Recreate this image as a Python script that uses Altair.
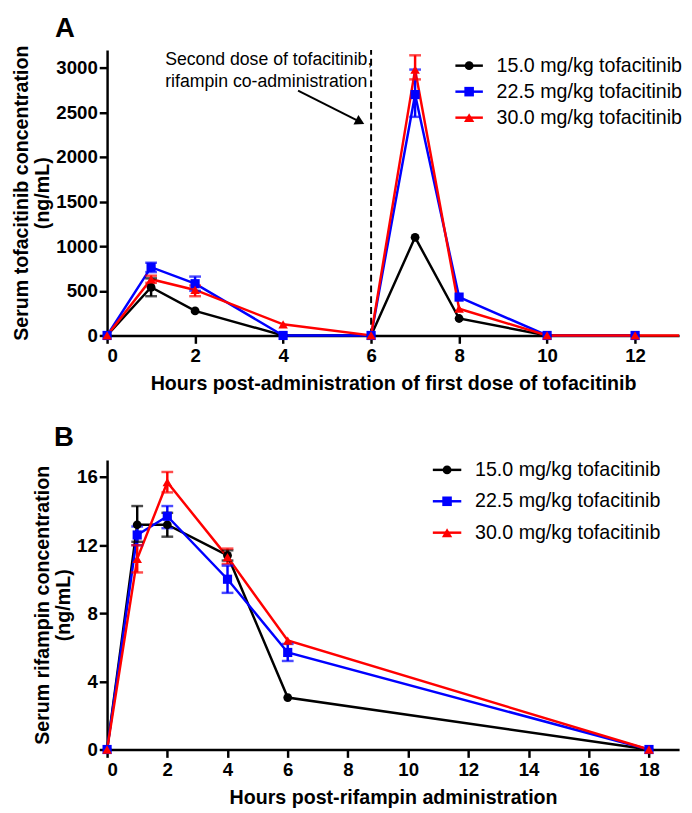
import altair as alt
import pandas as pd

# ---------------- data ----------------
series = ["15.0 mg/kg tofacitinib", "22.5 mg/kg tofacitinib", "30.0 mg/kg tofacitinib"]
colors = ["#000000", "#0000FF", "#FF0000"]
shapes = ["circle", "square", "triangle-up"]
sizes = [80, 95, 110]

# Panel A: serum tofacitinib
a_hours = [0, 1, 2, 4, 6, 7, 8, 10, 12]
a_black = [0, 540, 275, 0, 0, 1100, 190, 0, 0]
a_blue = [0, 765, 580, 0, 0, 2700, 430, 0, 0]
a_red = [0, 630, 510, 125, 0, 2980, 300, 0, 0]
a_red_tail_hours = [12, 13]
a_red_tail = [0, 0]
# error bars (series index, hour, low, high)
a_err_series = [0, 1, 1, 1, 2, 2, 2]
a_err_hours = [1, 1, 2, 7, 1, 2, 7]
a_err_lo = [440, 710, 500, 2450, 590, 440, 2870]
a_err_hi = [640, 815, 660, 2980, 670, 560, 3140]

# Panel B: serum rifampin
b_hours = [0, 1, 2, 4, 6, 18]
b_black = [0, 13.2, 13.2, 11.4, 3.05, 0]
b_blue = [0, 12.6, 13.7, 10.0, 5.7, 0]
b_red = [0, 11.2, 15.7, 11.3, 6.4, 0]
b_err_series = [0, 0, 0, 1, 1, 1, 1, 2, 2, 2]
b_err_hours = [1, 2, 4, 1, 2, 4, 6, 1, 2, 4]
b_err_lo = [12.2, 12.5, 11.1, 12.0, 13.0, 9.2, 5.2, 10.4, 15.1, 10.9]
b_err_hi = [14.3, 13.9, 11.7, 13.1, 14.3, 10.8, 6.2, 12.0, 16.3, 11.8]

annotation_lines = ["Second dose of tofacitinib,", "rifampin co-administration"]

FONT = "Liberation Sans"


def long_df(hours, vals_list):
    rows = []
    for s, vals in zip(series, vals_list):
        for h, v in zip(hours, vals):
            rows.append({"series": s, "hour": h, "value": v})
    return pd.DataFrame(rows)


def err_df(idx, hours, lo, hi):
    return pd.DataFrame({"series": [series[i] for i in idx], "hour": hours, "lo": lo, "hi": hi})


color_scale = alt.Scale(domain=series, range=colors)
shape_scale = alt.Scale(domain=series, range=shapes)


def panel(df, edf, xdom, xticks, ydom, yticks, xtitle, ytitle, legend_pos, letter, letter_pos, xtp):
    x = alt.X("hour:Q", scale=alt.Scale(domain=xdom, nice=False, zero=False),
              axis=alt.Axis(values=xticks, title=xtitle, grid=False, format="d",
                            titlePadding=xtp))
    y = alt.Y("value:Q", scale=alt.Scale(domain=ydom, nice=False),
              axis=alt.Axis(values=yticks, title=ytitle, grid=False, format="d"))
    base = alt.Chart(df)
    cenc = alt.Color("series:N", scale=color_scale, legend=None)
    lines = base.mark_line(strokeWidth=2.5).encode(
        x=x, y=y, color=cenc, order="hour:Q", detail="series:N")
    ebase = alt.Chart(edf)
    erule = ebase.mark_rule(strokeWidth=2.5).encode(
        x="hour:Q", y="lo:Q", y2="hi:Q", color=cenc)
    ecap_lo = ebase.mark_tick(thickness=2.5, size=12, orient="horizontal").encode(
        x="hour:Q", y="lo:Q", color=cenc)
    ecap_hi = ebase.mark_tick(thickness=2.5, size=12, orient="horizontal").encode(
        x="hour:Q", y="hi:Q", color=cenc)
    pts = base.mark_point(filled=True, opacity=1).encode(
        x="hour:Q", y="value:Q", color=cenc,
        shape=alt.Shape("series:N", scale=shape_scale, legend=None),
        size=alt.Size("series:N", scale=alt.Scale(domain=series, range=sizes), legend=None))
    layers = [lines, erule, ecap_lo, ecap_hi, pts]

    # custom legend (line + marker + label)
    lx0, lx1, tx, ly0, dy = legend_pos
    for i, s in enumerate(series):
        yy = ly0 + i * dy
        one = pd.DataFrame({"label": [s]})
        c = alt.Chart(one)
        layers.append(c.mark_rule(color=colors[i], strokeWidth=2.5).encode(
            x=alt.value(lx0), x2=alt.value(lx1), y=alt.value(yy)))
        layers.append(c.mark_point(filled=True, opacity=1, color=colors[i], shape=shapes[i],
                                   size=sizes[i]).encode(
            x=alt.value((lx0 + lx1) / 2), y=alt.value(yy)))
        layers.append(c.mark_text(align="left", baseline="middle", font=FONT, fontSize=20,
                                  color="#000").encode(
            x=alt.value(tx), y=alt.value(yy), text="label:N"))
    # panel letter
    ldf = pd.DataFrame({"t": [letter]})
    layers.append(alt.Chart(ldf).mark_text(font=FONT, fontSize=28, fontWeight="bold",
                                           align="center", baseline="middle").encode(
        x=alt.value(letter_pos[0]), y=alt.value(letter_pos[1]), text="t:N"))
    return layers


dfA = long_df(a_hours, [a_black, a_blue, a_red])
edfA = err_df(a_err_series, a_err_hours, a_err_lo, a_err_hi)
layersA = panel(dfA, edfA, [0, 13], [0, 2, 4, 6, 8, 10, 12], [0, 3200],
                [0, 500, 1000, 1500, 2000, 2500, 3000],
                "Hours post-administration of first dose of tofacitinib",
                ["Serum tofacitinib concentration", "(ng/mL)"],
                (355, 383, 397, 16, 26.5), "A", (-43, -21), 8)

# red tail beyond 12 h
tail = pd.DataFrame({"hour": a_red_tail_hours, "value": a_red_tail})
layersA.insert(0, alt.Chart(tail).mark_line(color="#FF0000", strokeWidth=2.5).encode(
    x="hour:Q", y="value:Q"))

# dashed line at second dose
dose = pd.DataFrame({"hour": [6], "lo": [0], "hi": [3200]})
layersA.insert(0, alt.Chart(dose).mark_rule(color="#000", strokeWidth=2, strokeDash=[7, 4]).encode(
    x="hour:Q", y="lo:Q", y2="hi:Q"))

# annotation text + arrow
ann = pd.DataFrame({"t": annotation_lines, "hour": [1.32, 1.32], "value": [3085, 2843]})
layersA.append(alt.Chart(ann).mark_text(align="left", baseline="middle", font=FONT,
                                        fontSize=18).encode(x="hour:Q", y="value:Q", text="t:N"))
arrow = pd.DataFrame({"hour": [4.34], "value": [2744], "hour2": [5.75], "value2": [2395]})
layersA.append(alt.Chart(arrow).mark_rule(color="#000", strokeWidth=2).encode(
    x="hour:Q", y="value:Q", x2="hour2:Q", y2="value2:Q"))
layersA.append(alt.Chart(arrow).mark_point(shape="triangle-right", filled=True, opacity=1,
                                           color="#000", size=120, angle=27).encode(
    x="hour2:Q", y="value2:Q"))

dfB = long_df(b_hours, [b_black, b_blue, b_red])
edfB = err_df(b_err_series, b_err_hours, b_err_lo, b_err_hi)
layersB = panel(dfB, edfB, [0, 19], list(range(0, 19, 2)), [0, 17], [0, 4, 8, 12, 16],
                "Hours post-rifampin administration",
                ["Serum rifampin concentration", "(ng/mL)"],
                (332, 361, 375, 10, 32), "B", (-44, -22), 8)

chartA = alt.layer(*layersA).properties(width=583, height=291)
chartB = alt.layer(*layersB).properties(width=583, height=295)

chart = alt.vconcat(chartA, chartB, spacing=32).properties(
    padding={"left": 3, "top": 0, "right": 0, "bottom": 0}
).configure_view(
    stroke=None
).configure_axis(
    domainColor="#000", domainWidth=2.5, tickColor="#000", tickWidth=2.5, tickSize=8,
    labelFont=FONT, labelFontSize=19, labelFontWeight="bold", labelColor="#000",
    titleFont=FONT, titleFontSize=20, titleFontWeight="bold", titleColor="#000",
).configure_axisX(labelPadding=4).configure_axisY(labelPadding=2, titlePadding=3)

chart.save("out.html", embed_options={"renderer": "svg", "actions": False})
